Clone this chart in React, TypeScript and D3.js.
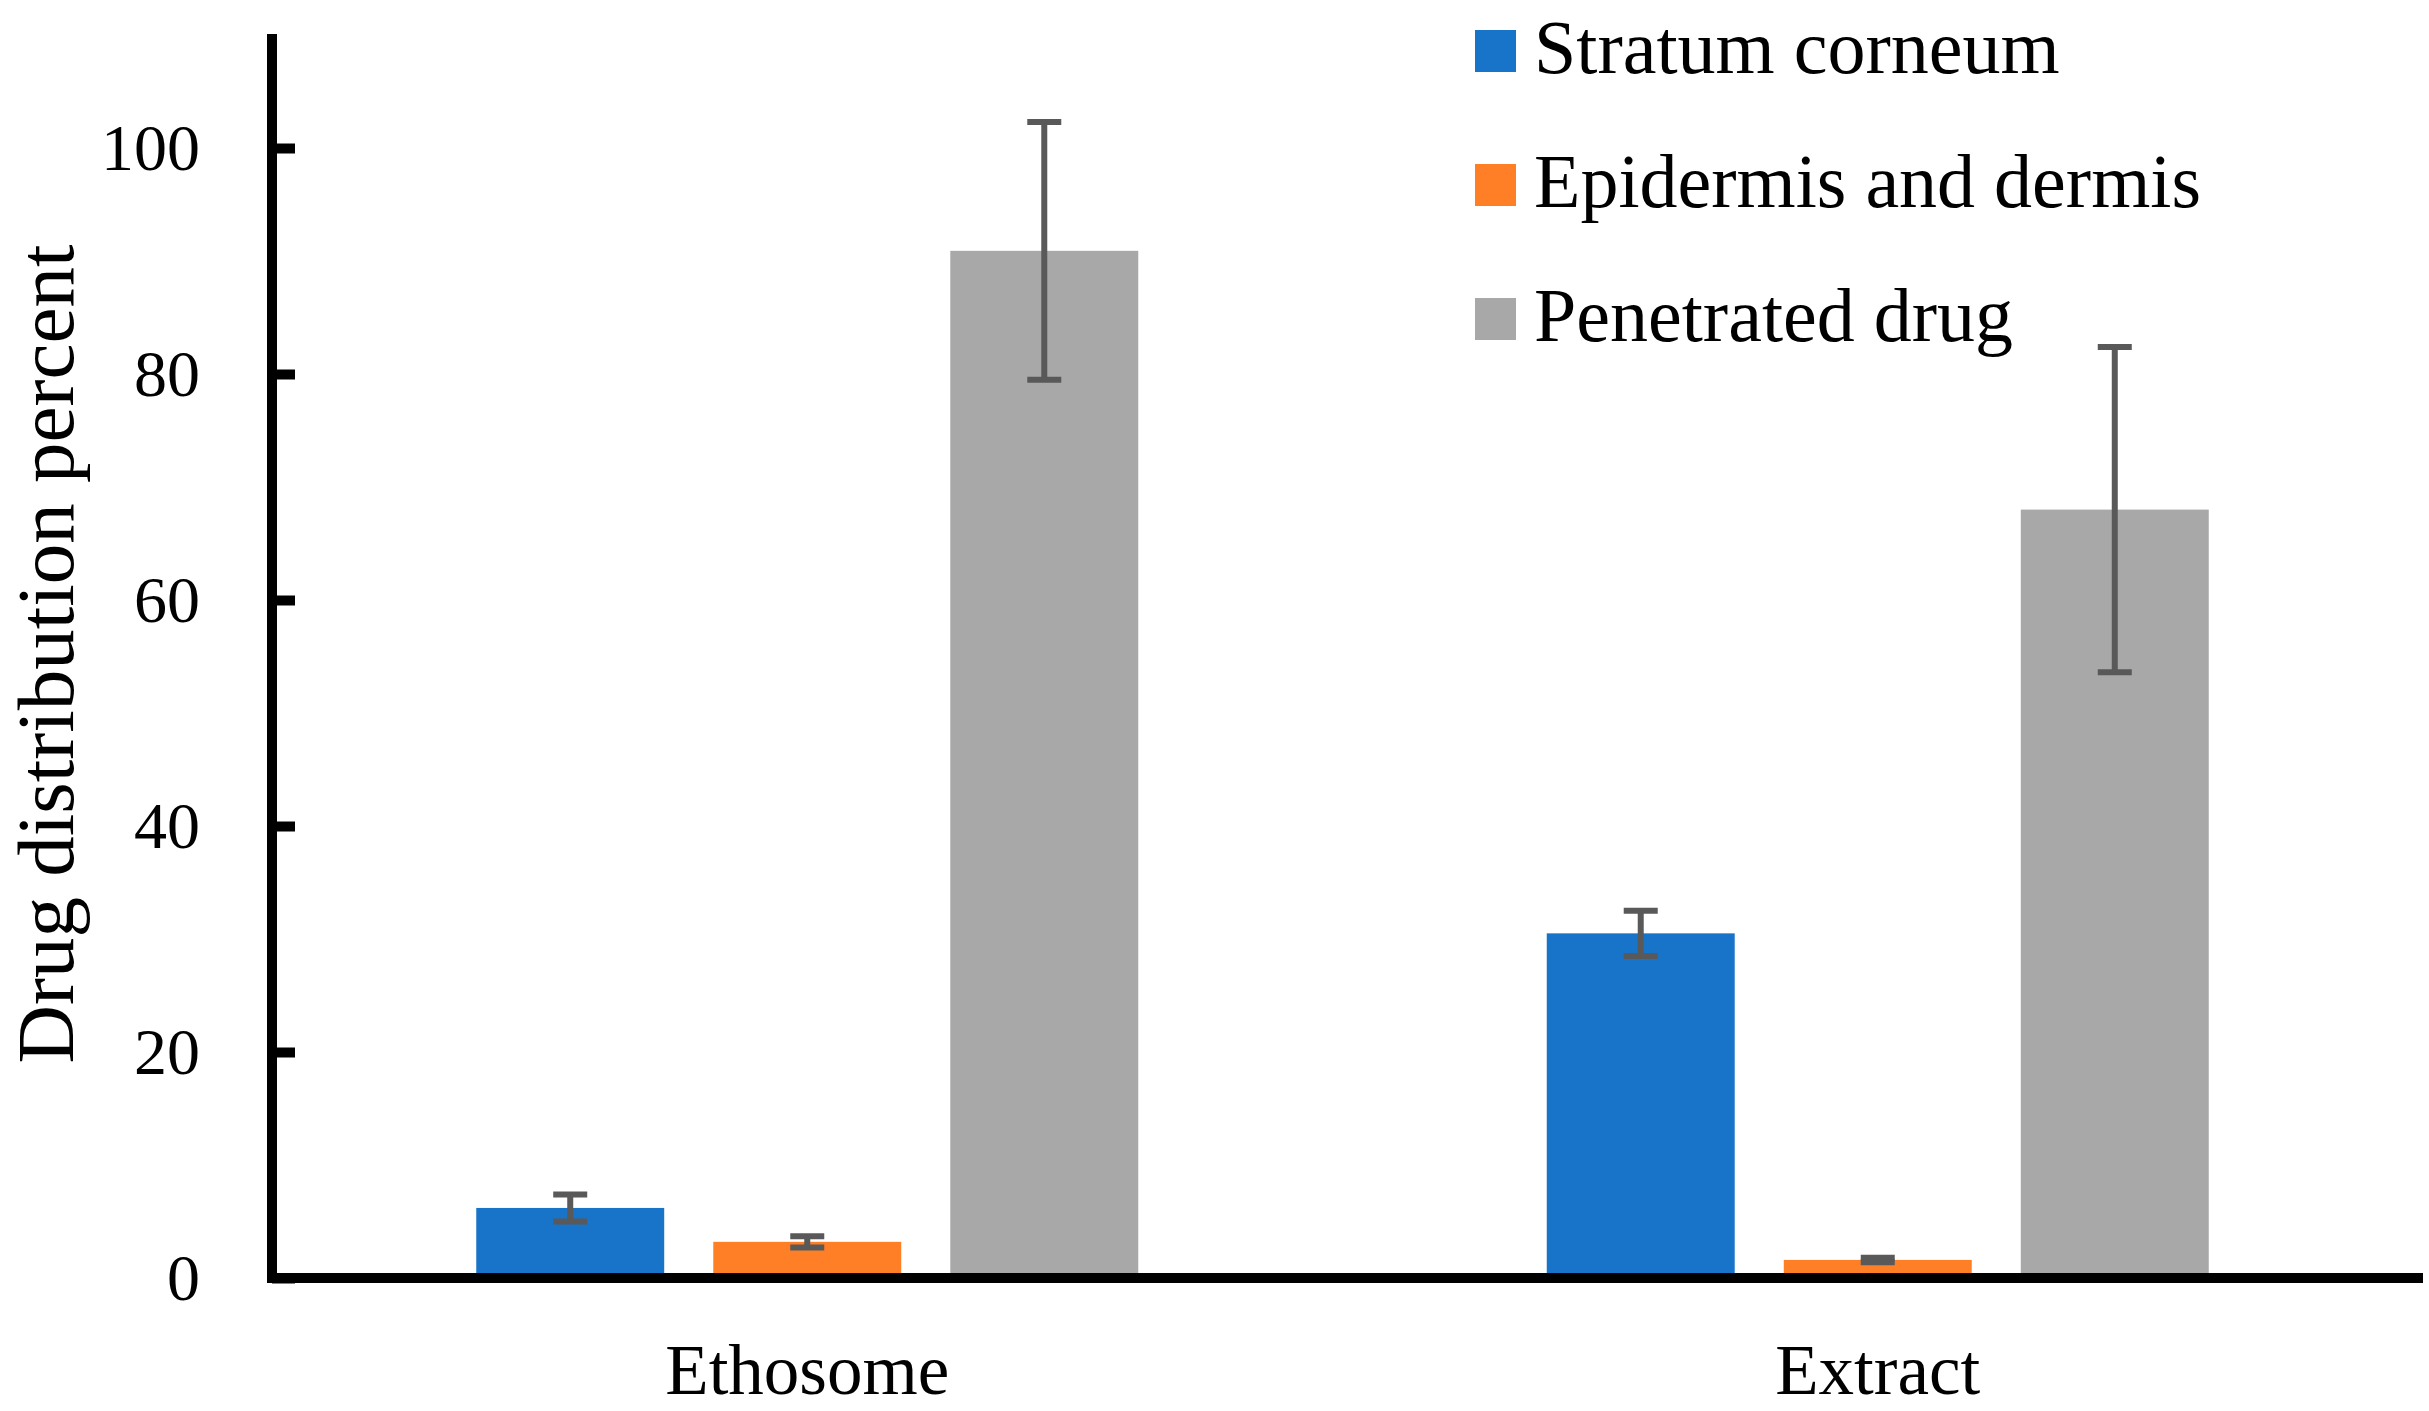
import { useEffect, useRef } from "react";
import * as d3 from "d3";

// categories and series
const categories = ["Ethosome", "Extract"];
const seriesNames = ["Stratum corneum", "Epidermis and dermis", "Penetrated drug"];
const seriesColors = ["#1874C8", "#FF7F27", "#A8A8A8"];

// values per series, in order of categories
const stratumValues = [6.2, 30.5];
const stratumErrors = [1.2, 2.0];
const epidermisValues = [3.2, 1.6];
const epidermisErrors = [0.5, 0.2];
const penetratedValues = [90.9, 68.0];
const penetratedErrors = [11.4, 14.4];

const yTicks = [0, 20, 40, 60, 80, 100];

interface Bar {
  category: string;
  series: string;
  value: number;
  err: number;
}

const App: React.FC = () => {
  const ref = useRef<HTMLDivElement>(null);

  useEffect(() => {
    document.body.style.margin = "0";
    const width = 2429;
    const height = 1411;
    const left = 272;
    const right = 2413;
    const top = 34;
    const bottom = 1278;
    const font = "'Liberation Serif', 'Times New Roman', serif";

    const valueSets = [stratumValues, epidermisValues, penetratedValues];
    const errorSets = [stratumErrors, epidermisErrors, penetratedErrors];
    const bars: Bar[] = [];
    categories.forEach((c, ci) => {
      seriesNames.forEach((s, si) => {
        bars.push({ category: c, series: s, value: valueSets[si][ci], err: errorSets[si][ci] });
      });
    });

    const svg = d3.select(ref.current)
      .selectAll("svg")
      .data([null])
      .join("svg")
      .attr("width", width)
      .attr("height", height)
      .style("display", "block")
      .style("background", "#fff");
    svg.selectAll("*").remove();

    const x0 = d3.scalePoint<string>()
      .domain(categories)
      .range([left, right])
      .padding(0.5);

    const x1 = d3.scaleBand<string>()
      .domain(seriesNames)
      .range([-331, 331])
      .paddingInner(0.207);

    // 11.3 px per unit, 0 on the x axis line
    const y = d3.scaleLinear()
      .domain([0, 110])
      .range([bottom, bottom - 1243]);

    const color = d3.scaleOrdinal<string, string>()
      .domain(seriesNames)
      .range(seriesColors);

    // bars
    svg.append("g")
      .selectAll("rect")
      .data(bars)
      .join("rect")
      .attr("x", d => (x0(d.category) as number) + (x1(d.series) as number))
      .attr("y", d => y(d.value))
      .attr("width", x1.bandwidth())
      .attr("height", d => y(0) - y(d.value))
      .attr("fill", d => color(d.series));

    // error bars
    const errG = svg.append("g")
      .attr("stroke", "#595959")
      .attr("stroke-width", 6);
    const cx = (d: Bar) => (x0(d.category) as number) + (x1(d.series) as number) + x1.bandwidth() / 2;
    errG.selectAll("line.v")
      .data(bars)
      .join("line")
      .attr("class", "v")
      .attr("x1", cx)
      .attr("x2", cx)
      .attr("y1", d => y(d.value + d.err))
      .attr("y2", d => y(d.value - d.err));
    errG.selectAll("line.t")
      .data(bars)
      .join("line")
      .attr("class", "t")
      .attr("x1", d => cx(d) - 17)
      .attr("x2", d => cx(d) + 17)
      .attr("y1", d => y(d.value + d.err))
      .attr("y2", d => y(d.value + d.err));
    errG.selectAll("line.b")
      .data(bars)
      .join("line")
      .attr("class", "b")
      .attr("x1", d => cx(d) - 17)
      .attr("x2", d => cx(d) + 17)
      .attr("y1", d => y(d.value - d.err))
      .attr("y2", d => y(d.value - d.err));

    // y axis, ticks point inward
    const yAxis = svg.append("g")
      .attr("transform", `translate(${left},0)`)
      .call(d3.axisRight(y).tickValues(yTicks).tickSize(23).tickFormat(() => ""));
    yAxis.select(".domain").remove();
    yAxis.selectAll(".tick line").attr("stroke", "#000").attr("stroke-width", 10);
    svg.append("line")
      .attr("x1", left)
      .attr("x2", left)
      .attr("y1", top)
      .attr("y2", bottom + 5)
      .attr("stroke", "#000")
      .attr("stroke-width", 10);

    svg.append("g")
      .selectAll("text")
      .data(yTicks)
      .join("text")
      .attr("x", 200)
      .attr("y", d => y(d))
      .attr("dy", "0.33em")
      .attr("text-anchor", "end")
      .attr("font-family", font)
      .attr("font-size", 66)
      .text(d => d);

    // x axis
    svg.append("line")
      .attr("x1", left - 5)
      .attr("x2", 2423)
      .attr("y1", bottom)
      .attr("y2", bottom)
      .attr("stroke", "#000")
      .attr("stroke-width", 10);

    svg.append("g")
      .selectAll("text")
      .data(categories)
      .join("text")
      .attr("x", d => x0(d) as number)
      .attr("y", 1394)
      .attr("text-anchor", "middle")
      .attr("font-family", font)
      .attr("font-size", 71)
      .text(d => d);

    // y label
    svg.append("text")
      .attr("transform", `translate(73,654) rotate(-90)`)
      .attr("text-anchor", "middle")
      .attr("font-family", font)
      .attr("font-size", 81)
      .text("Drug distribution percent");

    // legend
    const legend = svg.append("g")
      .selectAll("g")
      .data(seriesNames)
      .join("g")
      .attr("transform", (_d, i) => `translate(1475,${30 + i * 134})`);
    legend.append("rect")
      .attr("width", 41)
      .attr("height", 42)
      .attr("fill", d => color(d));
    legend.append("text")
      .attr("x", 59)
      .attr("y", 43)
      .attr("font-family", font)
      .attr("font-size", 76)
      .text(d => d);
  }, []);

  return <div ref={ref} />;
};

export default App;
